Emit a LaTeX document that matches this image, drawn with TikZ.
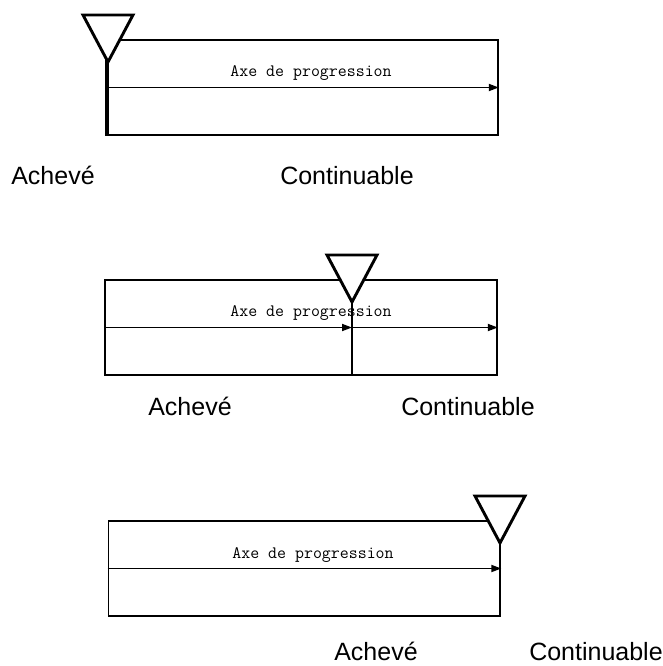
\documentclass[tikz,border=0pt]{standalone}
\usepackage{fontspec}
\setmainfont{Liberation Sans}
\usetikzlibrary{arrows.meta}

\tikzset{
  cadre/.style={draw,line width=1.7pt,minimum width=392pt,minimum height=95pt,inner sep=0pt},
  axe/.style={line width=1.7pt,-{Triangle[length=10pt,width=7pt]}},
  curseur/.style={line width=2.9pt,line join=miter},
  axelbl/.style={font=\ttfamily\fontsize{17.4}{19}\selectfont,inner sep=0pt},
  etat/.style={font=\fontsize{25}{28}\selectfont,anchor=base,inner sep=0pt},
}

\begin{document}
\begin{tikzpicture}[x=1pt,y=-1pt]
  \useasboundingbox (0,0) rectangle (663,666);
  % ligne 1 : curseur au debut
  \node[cadre] (box1) at (302,87.5) {};
  \draw[axe] (box1.west) -- (box1.east);
  \node[axelbl] (axe1) at (311,73) {Axe de progression};
  \coordinate (t1) at (108,62);
  \draw[curseur,fill=white] (t1) -- ++(-25,-47) -- ++(50,0) -- cycle;
  \draw[curseur] (t1) -- (t1 |- box1.south);
  \node[etat] (fini1) at (53,184) {Achevé};
  \node[etat] (suite1) at (347,184) {Continuable};
  % ligne 2 : curseur au milieu
  \node[cadre] (box2) at (301,327.5) {};
  \coordinate (t2) at (352,302);
  \draw[axe] (box2.west) -- (t2 |- box2.center);
  \draw[axe] (t2 |- box2.center) -- (box2.east);
  \node[axelbl] (axe2) at (311,313) {Axe de progression};
  \draw[curseur,fill=white] (t2) -- ++(-25,-47) -- ++(50,0) -- cycle;
  \draw[curseur] (t2) -- (t2 |- box2.south);
  \node[etat] (fini2) at (190,415) {Achevé};
  \node[etat] (suite2) at (468,415) {Continuable};
  % ligne 3 : curseur a la fin
  \node[cadre] (box3) at (304.5,568.5) {};
  \draw[axe] (box3.west) -- (box3.east);
  \node[axelbl] (axe3) at (313,555) {Axe de progression};
  \coordinate (t3) at (500,543);
  \draw[curseur,fill=white] (t3) -- ++(-25,-47) -- ++(50,0) -- cycle;
  \draw[curseur] (t3) -- (t3 |- box3.south);
  \node[etat] (fini3) at (376,660) {Achevé};
  \node[etat] (suite3) at (596,660) {Continuable};
\end{tikzpicture}
\end{document}
